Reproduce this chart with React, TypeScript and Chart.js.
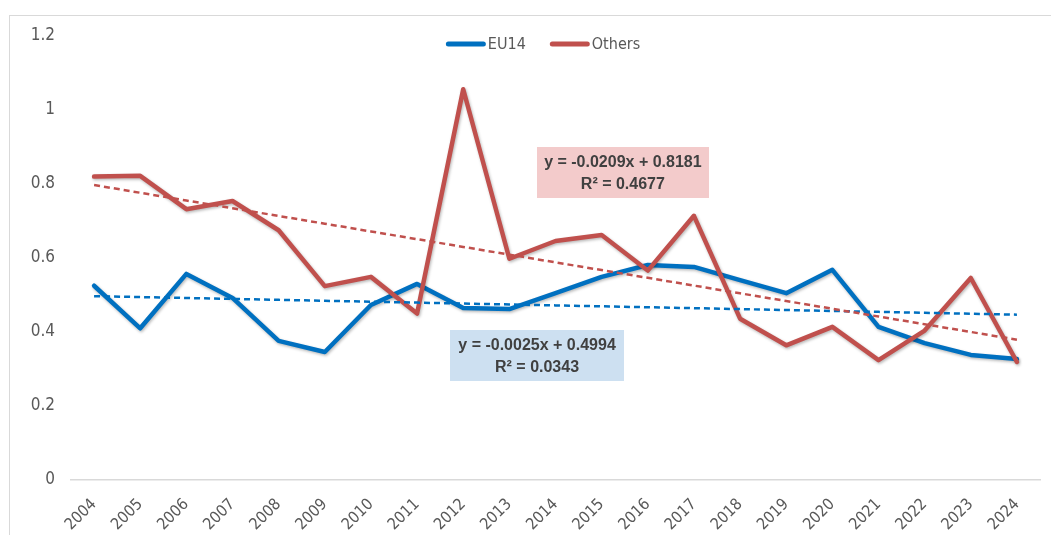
import React, { useEffect, useRef } from "react";
import { Chart, registerables } from "chart.js";

Chart.register(...registerables);

// ---------- data ----------
const YEARS = [
  "2004", "2005", "2006", "2007", "2008", "2009", "2010", "2011", "2012", "2013", "2014",
  "2015", "2016", "2017", "2018", "2019", "2020", "2021", "2022", "2023", "2024",
];
const EU14 = [
  0.525, 0.41, 0.557, 0.492, 0.376, 0.346, 0.473, 0.53, 0.465, 0.462, 0.505,
  0.549, 0.581, 0.576, 0.54, 0.505, 0.568, 0.414, 0.37, 0.338, 0.327,
];
const OTHERS = [
  0.82, 0.822, 0.732, 0.754, 0.675, 0.524, 0.549, 0.45, 1.056, 0.598, 0.646,
  0.662, 0.566, 0.714, 0.436, 0.364, 0.414, 0.324, 0.404, 0.546, 0.319,
];
// Excel linear trendline coefficients (x = 1..21)
const EU14_TREND = [-0.0025, 0.4994, 0.0343]; // slope, intercept, R²
const OTHERS_TREND = [-0.0209, 0.8181, 0.4677];
const Y_MIN = 0;
const Y_MAX = 1.2;
const Y_STEP = 0.2;
const SERIES_NAMES = ["EU14", "Others"];

// ---------- styles ----------
const BLUE = "#0070C0";
const RED = "#C0504D";
const AXIS_TEXT = "#595959";
const NOTE_TEXT = "#404040";
const FONT = '"Liberation Sans Narrow", "DejaVu Sans Condensed", "Liberation Sans", Arial, sans-serif';
const NOTE_FONT = '"Liberation Sans", Arial, sans-serif';

// annotation placement (in data coordinates: category index, value)
const NOTES = [
  { trend: OTHERS_TREND, cx: 11.46, cy: 0.831, w: 172, h: 51, fill: "#F3CBCB" },
  { trend: EU14_TREND, cx: 9.6, cy: 0.3365, w: 174, h: 51, fill: "#CDE0F1" },
];

function trendSeries(coef: number[]) {
  return YEARS.map((_, i) => +(coef[0] * (i + 1) + coef[1]).toFixed(4));
}

function fmtEq(coef: number[]) {
  const s = coef[0] < 0 ? "-" + Math.abs(coef[0]).toFixed(4) : coef[0].toFixed(4);
  return `y = ${s}x + ${coef[1].toFixed(4)}`;
}

const shadowPlugin = {
  id: "lineShadow",
  beforeDatasetDraw(chart: any, args: any) {
    const ds = chart.data.datasets[args.index];
    const ctx = chart.ctx;
    ctx.save();
    if (ds._shadow) {
      ctx.shadowColor = "rgba(0,0,0,0.28)";
      ctx.shadowBlur = 3;
      ctx.shadowOffsetX = 1;
      ctx.shadowOffsetY = 1.5;
    }
  },
  afterDatasetDraw(chart: any) {
    chart.ctx.restore();
  },
};

const notesPlugin = {
  id: "trendNotes",
  afterDraw(chart: any) {
    const ctx = chart.ctx;
    const xs = chart.scales.x;
    const ys = chart.scales.y;
    ctx.save();
    NOTES.forEach((n) => {
      const cx = xs.getPixelForValue(n.cx);
      const cy = ys.getPixelForValue(n.cy);
      ctx.fillStyle = n.fill;
      ctx.fillRect(Math.round(cx - n.w / 2), Math.round(cy - n.h / 2), n.w, n.h);
      ctx.fillStyle = NOTE_TEXT;
      ctx.font = `bold 16px ${NOTE_FONT}`;
      ctx.textAlign = "center";
      ctx.textBaseline = "middle";
      ctx.fillText(fmtEq(n.trend), cx, cy - 10);
      ctx.fillText(`R² = ${n.trend[2].toFixed(4)}`, cx, cy + 12);
    });
    ctx.restore();
  },
};

const legendPlugin = {
  id: "topLegend",
  afterDraw(chart: any) {
    const ctx = chart.ctx;
    const colors = [BLUE, RED];
    const lineW = 40;
    const textGap = 2;
    const itemGap = 24;
    ctx.save();
    ctx.font = `16px ${FONT}`;
    const widths = SERIES_NAMES.map((t) => ctx.measureText(t).width);
    const total =
      widths.reduce((a, w) => a + lineW + textGap + w, 0) + itemGap * (SERIES_NAMES.length - 1);
    let x = chart.width / 2 - total / 2 + 3;
    const y = chart.chartArea.top + 8;
    SERIES_NAMES.forEach((name, i) => {
      ctx.strokeStyle = colors[i];
      ctx.lineWidth = 5;
      ctx.lineCap = "round";
      ctx.beginPath();
      ctx.moveTo(x + 2.5, y);
      ctx.lineTo(x + lineW - 2.5, y);
      ctx.stroke();
      ctx.fillStyle = AXIS_TEXT;
      ctx.textAlign = "left";
      ctx.textBaseline = "middle";
      ctx.fillText(name, x + lineW + textGap, y + 1);
      x += lineW + textGap + widths[i] + itemGap;
    });
    ctx.restore();
  },
};

export default function App() {
  const ref = useRef<HTMLCanvasElement | null>(null);

  useEffect(() => {
    if (!ref.current) return;
    const chart = new Chart(ref.current, {
      type: "line",
      data: {
        labels: YEARS,
        datasets: [
          {
            label: SERIES_NAMES[0],
            data: EU14,
            borderColor: BLUE,
            backgroundColor: BLUE,
            borderWidth: 4.5,
            pointRadius: 0,
            tension: 0,
            borderJoinStyle: "round",
            borderCapStyle: "round",
            order: 4,
            _shadow: true,
          } as any,
          {
            label: SERIES_NAMES[1],
            data: OTHERS,
            borderColor: RED,
            backgroundColor: RED,
            borderWidth: 4.5,
            pointRadius: 0,
            tension: 0,
            borderJoinStyle: "round",
            borderCapStyle: "round",
            order: 3,
            _shadow: true,
          } as any,
          {
            label: "Linear (EU14)",
            data: trendSeries(EU14_TREND),
            borderColor: BLUE,
            borderWidth: 2.5,
            borderDash: [6, 4],
            pointRadius: 0,
            order: 2,
          },
          {
            label: "Linear (Others)",
            data: trendSeries(OTHERS_TREND),
            borderColor: RED,
            borderWidth: 2.5,
            borderDash: [6, 4],
            pointRadius: 0,
            order: 1,
          },
        ],
      },
      options: {
        responsive: false,
        animation: false,
        devicePixelRatio: 1,
        layout: { padding: { top: 20, right: 30, bottom: 0, left: 0 } },
        plugins: {
          legend: { display: false },
          tooltip: { enabled: false },
          title: { display: false },
        },
        scales: {
          x: {
            type: "category",
            offset: true,
            grid: { display: false, drawTicks: false },
            border: { display: true, color: "#D9D9D9", width: 1.5 },
            ticks: {
              color: AXIS_TEXT,
              font: { family: FONT, size: 16 },
              minRotation: 45,
              maxRotation: 45,
              autoSkip: false,
              padding: 15,
            },
            afterFit: (s: any) => {
              s.height = 81;
            },
          },
          y: {
            min: Y_MIN,
            max: Y_MAX,
            grid: { display: false, drawTicks: false },
            border: { display: false },
            ticks: {
              stepSize: Y_STEP,
              color: AXIS_TEXT,
              font: { family: FONT, size: 17 },
              padding: 16,
              callback: (v: any) => String(Number(Number(v).toFixed(1))),
            },
            afterFit: (s: any) => {
              s.width = 61;
              s.paddingTop = 0;
              s.paddingBottom = 0;
            },
          },
        },
      },
      plugins: [shadowPlugin, notesPlugin, legendPlugin],
    });
    return () => chart.destroy();
  }, []);

  return (
    <div
      style={{
        position: "absolute",
        left: 9,
        top: 15,
        width: 1060,
        height: 545,
        border: "1px solid #D9D9D9",
        background: "#fff",
      }}
    >
      <canvas ref={ref} width={1060} height={545} style={{ display: "block" }} />
    </div>
  );
}
